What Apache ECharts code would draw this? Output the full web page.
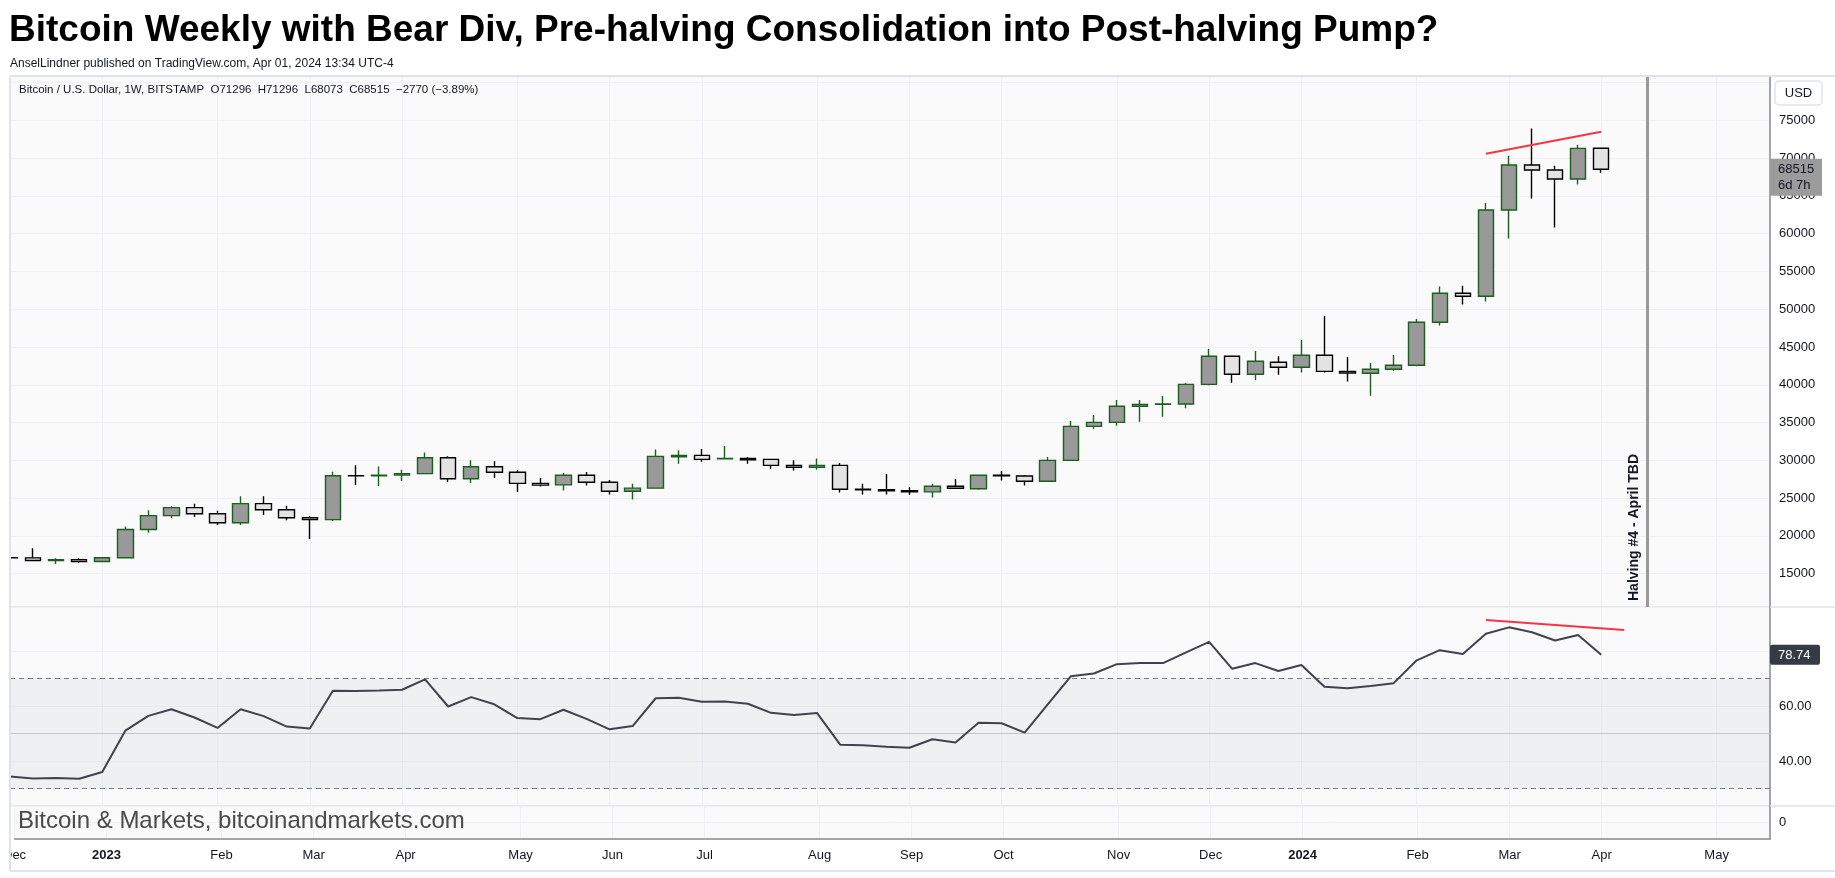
<!DOCTYPE html>
<html><head><meta charset="utf-8">
<script src="https://cdn.jsdelivr.net/npm/echarts@6/dist/echarts.min.js"></script>
<style>html,body{margin:0;padding:0;background:#fff}#c{width:1835px;height:878px}</style>
</head><body><div id="c"></div>
<script>
// ---------- DATA ----------
const dates = ['2022-12-05','2022-12-12','2022-12-19','2022-12-26','2023-01-02','2023-01-09','2023-01-16','2023-01-23','2023-01-30','2023-02-06',
'2023-02-13','2023-02-20','2023-02-27','2023-03-06','2023-03-13','2023-03-20','2023-03-27','2023-04-03','2023-04-10','2023-04-17',
'2023-04-24','2023-05-01','2023-05-08','2023-05-15','2023-05-22','2023-05-29','2023-06-05','2023-06-12','2023-06-19','2023-06-26',
'2023-07-03','2023-07-10','2023-07-17','2023-07-24','2023-07-31','2023-08-07','2023-08-14','2023-08-21','2023-08-28','2023-09-04',
'2023-09-11','2023-09-18','2023-09-25','2023-10-02','2023-10-09','2023-10-16','2023-10-23','2023-10-30','2023-11-06','2023-11-13',
'2023-11-20','2023-11-27','2023-12-04','2023-12-11','2023-12-18','2023-12-25','2024-01-01','2024-01-08','2024-01-15','2024-01-22',
'2024-01-29','2024-02-05','2024-02-12','2024-02-19','2024-02-26','2024-03-04','2024-03-11','2024-03-18','2024-03-25','2024-04-01'];
const open  = [17110,17090,16740,16850,16610,17120,20850,22680,23740,22940,
21750,24270,23470,22410,22150,27970,27950,28050,28240,30350,
27570,29160,28430,26950,26750,28030,27110,25920,26320,30480,
30660,30200,30260,30130,29340,29080,29340,26180,26100,25970,
25830,26580,26250,28030,27930,27240,29990,34500,35030,37150,
37410,37450,40060,43770,41390,42980,42310,43900,41780,41520,
42050,42580,48280,52120,51720,63120,69080,68420,67230,71296];
const high  = [17420,18360,17040,17030,17170,21260,23390,23920,24260,23340,
25240,25240,24000,22590,28500,29340,29200,28770,31050,30530,
30000,29870,28680,27670,28330,28460,27410,26890,31450,31320,
31490,31890,30440,30150,30000,30260,29650,26890,28200,26450,
26890,27540,28060,28600,28070,30440,35200,36000,37980,37980,
38520,40240,44740,43850,44480,43770,45940,49100,43680,42890,
43950,48720,53000,53090,64050,70320,73900,68990,71780,71296];
const low   = [16880,16700,16290,16420,16550,17080,20420,22370,22500,21450,
21450,22770,22060,19590,21970,26740,26600,27270,28150,27130,
27000,27660,25810,26530,26010,26670,25480,24820,26250,29560,
29820,30110,29560,28900,28640,28770,25750,25480,25480,25400,
25090,26200,26100,27320,26670,27150,29900,34190,34580,35110,
35780,36880,39950,40280,40590,41340,41610,41610,40420,38560,
41870,42450,47840,50620,51020,59360,64660,60820,66520,68073];
const close = [17090,16740,16850,16600,17120,20850,22680,23740,22940,21750,
24270,23470,22410,22150,27970,27950,28050,28240,30350,27570,
29160,28430,26950,26720,28030,27110,25920,26320,30530,30660,
30130,30260,30080,29340,29080,29340,26180,26100,25970,25830,
26580,26310,28030,27960,27240,30000,34500,35030,37150,37410,
37450,40060,43770,41390,43110,42310,43900,41780,41560,42050,
42580,48280,52120,51720,63120,69080,68420,67230,71285,68515];
const rsi   = [34.4,33.7,33.9,33.6,36.1,51.1,56.5,58.9,55.9,52.1,
58.9,56.4,52.6,51.9,65.6,65.5,65.7,66.0,69.8,59.9,
63.3,60.7,55.7,55.3,58.7,55.4,51.6,52.8,62.9,63.1,
61.6,61.7,60.9,57.6,56.8,57.5,46.0,45.8,45.3,44.9,
48.0,46.8,54.0,53.8,50.4,60.7,70.9,71.9,75.3,75.7,
75.7,79.6,83.4,73.6,75.7,72.8,75.0,67.1,66.5,67.4,
68.4,76.7,80.4,79.0,86.4,88.7,86.9,83.9,85.9,78.74];
const monthIdx    = [0,4,9,13,17,22,26,30,35,39,43,48,52,56,61,65,69,74];
const monthLabels = ['Dec','2023','Feb','Mar','Apr','May','Jun','Jul','Aug','Sep','Oct','Nov','Dec','2024','Feb','Mar','Apr','May'];
const priceTickLabels = [15000,20000,25000,30000,35000,40000,45000,50000,55000,60000,65000,70000,75000];
const priceDivLine = [[64, 70580], [69, 73490]];
const rsiDivLine   = [[64, 91.4], [70, 87.7]];
const halvingIdx = 71;
const rsiLevels = [70, 50, 30];

// ---------- CHART ----------
const FONT = 'Liberation Sans';
const TXT = '#131722';
const X_MAX = 76.32;
const chart = echarts.init(document.getElementById('c'), null, {renderer: 'canvas'});
const candleData = dates.map((d, i) => [i, open[i], close[i], low[i], high[i]]);
const rsiData = rsi.map((v, i) => [i, v]);
const last = dates.length - 1;
const chg = close[last] - close[last - 1];
const chgPct = (chg / close[last - 1] * 100).toFixed(2);
const minus = s => String(s).replace('-', '\u2212');
const legendText = `Bitcoin / U.S. Dollar, 1W, BITSTAMP  O${open[last]}  H${high[last]}  L${low[last]}  C${close[last]}  ${minus(chg)} (${minus(chgPct)}%)`;

const gridBase = {left: 10, width: 1760, show: true, backgroundColor: '#fafafa', borderColor: '#e0e3eb', borderWidth: 1};
const splitStyle = {show: true, lineStyle: {color: '#eef0f3', width: 1}};
function xAxisFor(g, showLabels) {
  return {
    type: 'value', gridIndex: g, min: 0, max: X_MAX,
    axisLine: {show: g === 2, onZero: false, lineStyle: {color: '#8a8d96', width: 1.5}},
    axisTick: {show: false, customValues: monthIdx},
    splitLine: splitStyle,
    axisLabel: {
      show: showLabels, customValues: monthIdx, margin: 10,
      fontFamily: FONT, fontSize: 13, color: TXT,
      formatter: v => {
        const k = monthIdx.indexOf(Math.round(v));
        if (k < 0) return '';
        const s = monthLabels[k];
        return /^\d{4}$/.test(s) ? '{b|' + s + '}' : s;
      },
      rich: {b: {fontWeight: 'bold', fontFamily: FONT, fontSize: 13, color: TXT}}
    }
  };
}
const yLine = {show: true, onZero: false, lineStyle: {color: '#8a8d96', width: 1.5}};

const option = {
  animation: false,
  backgroundColor: '#ffffff',
  textStyle: {fontFamily: FONT},
  title: [
    {text: 'Bitcoin Weekly with Bear Div, Pre-halving Consolidation into Post-halving Pump?', left: 9, top: 12, padding: 0,
     textStyle: {fontFamily: FONT, fontSize: 37, fontWeight: 'bold', color: '#000'}},
    {text: 'AnselLindner published on TradingView.com, Apr 01, 2024 13:34 UTC-4', left: 10, top: 58, padding: 0,
     textStyle: {fontFamily: FONT, fontSize: 12, fontWeight: 'normal', color: TXT}},
    {text: legendText, left: 19, top: 84, padding: 0,
     textStyle: {fontFamily: FONT, fontSize: 11.5, fontWeight: 'normal', color: TXT}},
    {text: 'Bitcoin & Markets, bitcoinandmarkets.com', left: 18, top: 809, padding: 0,
     textStyle: {fontFamily: FONT, fontSize: 24, fontWeight: 'normal', color: '#4a4a4a'}}
  ],
  grid: [
    Object.assign({top: 76, height: 531}, gridBase),
    Object.assign({top: 607, height: 199}, gridBase),
    Object.assign({top: 806, height: 33}, gridBase)
  ],
  xAxis: [xAxisFor(0, false), xAxisFor(1, false), xAxisFor(2, true)],
  yAxis: [
    {type: 'value', gridIndex: 0, position: 'right', min: 10593, max: 80862, splitNumber: 14, minInterval: 5000, maxInterval: 5000,
     axisLine: yLine, axisTick: {show: false}, splitLine: splitStyle,
     axisLabel: {margin: 9, fontFamily: FONT, fontSize: 13, color: TXT, formatter: v => (priceTickLabels.includes(v) ? String(v) : '')}},
    {type: 'value', gridIndex: 1, position: 'right', min: 23.7, max: 96.1, splitNumber: 4, minInterval: 20, maxInterval: 20,
     axisLine: yLine, axisTick: {show: false}, splitLine: splitStyle,
     axisLabel: {margin: 9, fontFamily: FONT, fontSize: 13, color: TXT, formatter: v => (Math.abs(v % 20) < 1e-9 ? v.toFixed(2) : '')}},
    {type: 'value', gridIndex: 2, position: 'right', min: -1, max: 1, interval: 1,
     axisLine: yLine, axisTick: {show: false}, splitLine: splitStyle,
     axisLabel: {margin: 9, fontFamily: FONT, fontSize: 13, color: TXT, formatter: v => (v === 0 ? '0' : '')}}
  ],
  series: [
    {
      type: 'candlestick', name: 'BTCUSD', xAxisIndex: 0, yAxisIndex: 0, data: candleData, barWidth: 16, clip: true,
      itemStyle: {color: '#999999', color0: '#e3e3e3', borderColor: '#1b5e20', borderColor0: '#000000', borderWidth: 1.4},
      markLine: {
        silent: true, symbol: ['none', 'none'], animation: false,
        data: [
          {xAxis: halvingIdx, lineStyle: {color: '#9a9a9a', width: 3, type: 'solid'},
           label: {show: true, formatter: 'Halving #4 - April TBD', position: 'insideStartTop', distance: 6,
                   fontFamily: FONT, fontSize: 14, fontWeight: 'bold', color: TXT}},
          [{coord: priceDivLine[0], lineStyle: {color: '#f23645', width: 2, type: 'solid'}, label: {show: false}},
           {coord: priceDivLine[1]}]
        ]
      }
    },
    {
      type: 'line', name: 'RSI', xAxisIndex: 1, yAxisIndex: 1, data: rsiData, showSymbol: false, symbol: 'none',
      lineStyle: {color: '#40434e', width: 2}, z: 5,
      markArea: {silent: true, itemStyle: {color: 'rgba(120,125,145,0.08)'}, data: [[{yAxis: rsiLevels[2]}, {yAxis: rsiLevels[0]}]]},
      markLine: {
        silent: true, symbol: ['none', 'none'], animation: false, label: {show: false},
        data: [
          {yAxis: rsiLevels[0], lineStyle: {color: '#787b86', width: 1, type: [5, 4]}},
          {yAxis: rsiLevels[1], lineStyle: {color: '#c4c6cc', width: 1, type: 'solid'}},
          {yAxis: rsiLevels[2], lineStyle: {color: '#787b86', width: 1, type: [5, 4]}},
          [{coord: rsiDivLine[0], lineStyle: {color: '#f23645', width: 2, type: 'solid'}}, {coord: rsiDivLine[1]}]
        ]
      }
    }
  ]
};
chart.setOption(option);

// badges & frame placed through the library's own scales
const yPrice = chart.convertToPixel({yAxisIndex: 0}, close[last]);
const yRsi = chart.convertToPixel({yAxisIndex: 1}, rsi[last]);
const axX = chart.convertToPixel({xAxisIndex: 0}, X_MAX);
const top0 = chart.convertToPixel({yAxisIndex: 0}, 80862);
const yRsiTop = chart.convertToPixel({yAxisIndex: 1}, 96.1);
const yPane3 = chart.convertToPixel({yAxisIndex: 2}, 1);
chart.setOption({
  graphic: [
    {type: 'rect', shape: {x: 0, y: top0 - 1, width: 9.5, height: 878 - top0}, style: {fill: '#ffffff'}, z: 99},
    {type: 'line', shape: {x1: 10, y1: top0, x2: 1835, y2: top0}, style: {stroke: '#e0e3eb', lineWidth: 2}, z: 100},
    {type: 'line', shape: {x1: 10, y1: 871, x2: 1835, y2: 871}, style: {stroke: '#e0e3eb', lineWidth: 2}, z: 100},
    {type: 'line', shape: {x1: 10, y1: top0, x2: 10, y2: 871}, style: {stroke: '#e0e3eb', lineWidth: 2}, z: 100},
    {type: 'line', shape: {x1: axX, y1: yRsiTop, x2: 1835, y2: yRsiTop}, style: {stroke: '#e0e3eb', lineWidth: 1.5}, z: 100},
    {type: 'line', shape: {x1: axX, y1: yPane3, x2: 1835, y2: yPane3}, style: {stroke: '#e0e3eb', lineWidth: 1.5}, z: 100},
    {type: 'rect', shape: {x: axX + 5, y: top0 + 5, width: 47, height: 24, r: 4}, style: {fill: '#fff', stroke: '#e0e3eb', lineWidth: 1.5}, z: 100},
    {type: 'text', x: axX + 28.5, y: top0 + 17, style: {text: 'USD', fontFamily: FONT, fontSize: 13, fill: TXT, align: 'center', verticalAlign: 'middle'}, z: 101},
    {type: 'rect', shape: {x: axX, y: yPrice - 10.5, width: 52, height: 37}, style: {fill: '#9b9b9b'}, z: 100},
    {type: 'text', x: axX + 8, y: yPrice + 0.5, style: {text: String(close[last]), fontFamily: FONT, fontSize: 13, fill: TXT, verticalAlign: 'middle'}, z: 101},
    {type: 'text', x: axX + 8, y: yPrice + 16.5, style: {text: '6d 7h', fontFamily: FONT, fontSize: 13, fill: TXT, verticalAlign: 'middle'}, z: 101},
    {type: 'rect', shape: {x: axX, y: yRsi - 10, width: 50, height: 20, r: 2}, style: {fill: '#363a45'}, z: 100},
    {type: 'text', x: axX + 8, y: yRsi + 0.5, style: {text: rsi[last].toFixed(2), fontFamily: FONT, fontSize: 13, fill: '#ffffff', verticalAlign: 'middle'}, z: 101}
  ]
});
</script></body></html>
